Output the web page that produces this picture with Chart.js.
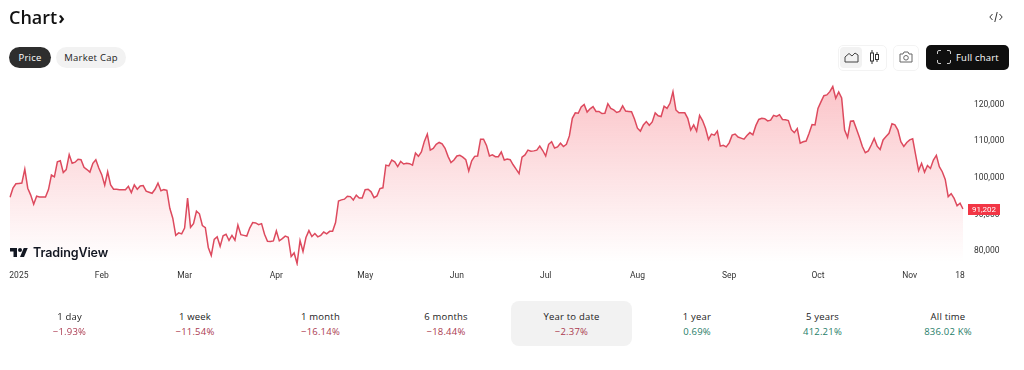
<!DOCTYPE html>
<html>
<head>
<meta charset="utf-8">
<title>Chart</title>
<script src="https://cdn.jsdelivr.net/npm/chart.js@4/dist/chart.umd.min.js"></script>
<style>
html, body { margin: 0; padding: 0; background: #fff; }
body { width: 1024px; height: 370px; overflow: hidden; position: relative; font-family: "Open Sans", sans-serif; color: #222; }
#wrap { position: absolute; left: 0; top: 0; width: 1024px; height: 290px; }
.abs { position: absolute; }
#title { left: 9px; top: 4px; font-size: 18px; font-weight: 600; color: #111; line-height: 26px; }
.pill { top: 47px; height: 21px; line-height: 21px; border-radius: 11px; font-size: 9.5px; text-align: center; letter-spacing: .25px; }
#price { left: 9px; width: 42px; background: #2e2e2e; color: #fff; }
#mcap { left: 56px; width: 70px; background: #f2f2f2; color: #222; }
#full { left: 926px; top: 45px; width: 83px; height: 25px; background: #0f0f0f; border-radius: 5px; color: #fff; font-size: 9.5px; font-weight: 500; letter-spacing: .2px; line-height: 25px; text-indent: 30px; }
.box { top: 45px; height: 24px; border: 1px solid #f3f3f3; border-radius: 5px; }
#active { left: 840px; top: 47px; width: 22px; height: 21px; background: #f2f2f2; border-radius: 4px; }
#logoText { left: 33px; top: 243px; font-family: Inter, sans-serif; font-size: 12.5px; font-weight: 600; color: #131722; line-height: 20px; letter-spacing: -.1px; }
#ytd { left: 511px; top: 301px; width: 121px; height: 45px; background: #f2f2f2; border-radius: 8px; }
.col { top: 309px; width: 125px; text-align: center; font-size: 9.5px; line-height: 15px; letter-spacing: .2px; }
.down { color: #ab3a50; }
.up { color: #1f7d68; }
</style>
</head>
<body>
<div id="wrap"><canvas id="priceChart" width="1024" height="290"></canvas></div>

<div class="abs" id="title">Chart<span style="font-size:18px;font-weight:700;margin-left:1px">›</span></div>
<div class="abs pill" id="price">Price</div>
<div class="abs pill" id="mcap">Market Cap</div>

<svg class="abs" style="left:989px;top:11px" width="14" height="12" viewBox="0 0 14 12" fill="none" stroke="#333" stroke-width="1">
  <path d="M3.5 3 L.8 6 L3.5 9 M10.5 3 L13.2 6 L10.5 9 M8.2 1 L5.8 11"/>
</svg>

<div class="abs box" style="left:838px;width:47px"></div>
<div class="abs" id="active"></div>
<svg class="abs" style="left:844px;top:51px" width="15" height="12" viewBox="0 0 15 12" fill="none" stroke="#444" stroke-width="1">
  <path d="M1 11 V6 L5 2.5 L8 5 L11 2 L14 4 V11 Z"/>
</svg>
<svg class="abs" style="left:869px;top:50px" width="11" height="14" viewBox="0 0 11 14" fill="none" stroke="#333" stroke-width="1">
  <path d="M3 0 V14 M8 2 V12"/>
  <rect x="1.5" y="3" width="3" height="8" fill="#fff"/>
  <rect x="6.5" y="4.5" width="3" height="5" fill="#fff"/>
</svg>
<div class="abs box" style="left:893px;width:24px"></div>
<svg class="abs" style="left:899px;top:51px" width="14" height="12" viewBox="0 0 14 12" fill="none" stroke="#666" stroke-width="1">
  <path d="M1 3 H4 L5 1 H9 L10 3 H13 V11 H1 Z"/>
  <circle cx="7" cy="6.8" r="2.3"/>
</svg>

<div class="abs" id="full">Full chart</div>
<svg class="abs" style="left:937px;top:50px" width="14" height="14" viewBox="0 0 14 14" fill="none" stroke="#ccc" stroke-width="1">
  <path d="M.5 4 V2 Q.5 .5 2 .5 H4 M10 .5 H12 Q13.5 .5 13.5 2 V4 M13.5 10 V12 Q13.5 13.5 12 13.5 H10 M4 13.5 H2 Q.5 13.5 .5 12 V10"/>
</svg>

<svg class="abs" style="left:10px;top:248px" width="18" height="9" viewBox="0 4 36 18" fill="#131722">
  <path d="M14 22H7V11H0V4h14v18zM28 22h-8l7.5-18h8L28 22z"/><circle cx="20" cy="8" r="4"/>
</svg>
<div class="abs" id="logoText">TradingView</div>

<div class="abs" id="ytd"></div>
<div id="periods"></div>

<script>
const jan = [94400,96900,98100,98200,98300,102100,96900,95000,92500,94700,94500,94500,94500,96500,100500,100000,104100,104400,101200,102000,106100,103700,104000,104800,104700,102600,102000,101300,103700,104700,102400];
const feb = [100600,97700,101400,97800,96600,96600,96500,96500,96500,97400,95700,97800,96600,97500,97600,96100,95800,95500,96600,98300,96200,96500,96300,91400,88700,84000,84700,84400];
const mar = [86000,94200,86200,87200,90600,89900,86700,86100,80700,78500,82900,83600,81000,83900,84300,82600,84000,82700,86800,84200,84000,83800,86000,87500,87400,86900,87200,84300,82400,82300,82500];
const apr = [85200,82500,83100,83800,83500,78200,79200,76300,82600,79600,83400,85300,83700,84500,83600,84000,84900,84400,85100,85100,87500,93400,93700,93900,94700,94600,93700,95000,94200,94200];
const may = [96500,96600,95900,94300,94800,96800,97000,103200,103000,104600,104100,102800,104200,103500,103700,103600,103200,106500,105600,106800,109700,111700,107300,107800,108900,109400,109000,107800,105600,103900,104600];
const jun = [105700,105900,105400,104700,101600,104400,105600,105700,110300,110300,108600,105700,106000,105500,105500,106800,104600,104900,104700,103300,102100,100900,105400,106000,107300,107000,107100,107300,108400,107200];
const jul = [105700,108900,109600,107900,108200,109200,108300,108900,111200,116000,117500,117400,119100,119800,117700,118600,119200,117900,117900,117300,117400,120000,118700,118300,117600,117900,119400,118000,117900,117800,115800];
const aug = [113300,112500,114200,115100,114100,115000,117500,116700,116500,119300,118700,120100,123300,118300,117500,117500,117500,116000,112800,114200,112500,116800,115400,113300,110200,111700,111400,112500,108400,108600,108200];
const sep = [109300,111400,111700,110900,110600,110300,111300,112100,111500,114000,115700,116000,115900,115300,115500,116800,116500,117000,115700,115600,115400,112900,112100,113200,109200,109600,109800,111900,114300,114200];
const oct = [118700,120500,122200,122400,123300,124700,121500,123200,121600,112800,110800,115200,115300,113100,110800,108300,106600,107100,108700,110500,108400,107500,110100,111000,111900,114500,114200,112800,109600,108300,109400];
const nov = [110100,110400,106000,101700,103700,101300,103100,102300,104600,105900,102800,101400,99300,94600,95400,94100,92100,92800,91202];

const prices = [].concat(jan, feb, mar, apr, may, jun, jul, aug, sep, oct, nov);

// day index -> text on the time axis ("2025" sits a bit inside the left edge)
const timeTicks = {3:'2025',31:'Feb',59:'Mar',90:'Apr',120:'May',151:'Jun',181:'Jul',212:'Aug',243:'Sep',273:'Oct',304:'Nov',321:'18'};
const priceTicks = [80000, 90000, 100000, 110000, 120000];

const periodNames = ['1 day','1 week','1 month','6 months','Year to date','1 year','5 years','All time'];
const periodChanges = ['−1.93%','−11.54%','−16.14%','−18.44%','−2.37%','0.69%','412.21%','836.02 K%'];
const periodUp = [false,false,false,false,false,true,true,true];

const labels = prices.map((p, i) => timeTicks[i] || '');

periodNames.forEach(function (name, i) {
    var d = document.createElement('div');
    d.className = 'abs col';
    d.style.left = (7 + i * 125.5) + 'px';
    d.innerHTML = '<div>' + name + '</div><div class="' + (periodUp[i] ? 'up' : 'down') + '">' + periodChanges[i] + '</div>';
    document.getElementById('periods').appendChild(d);
});

const lastPriceTag = {
    id: 'lastPriceTag',
    afterDraw(chart) {
        const c = chart.ctx;
        const last = prices[prices.length - 1];
        const y = chart.scales.y.getPixelForValue(last);
        c.save();
        c.fillStyle = '#f23645';
        c.fillRect(968, Math.round(y) - 5, 32, 11);
        c.fillStyle = '#fff';
        c.font = '8px Roboto, sans-serif';
        c.textAlign = 'center';
        c.textBaseline = 'middle';
        c.fillText(last.toLocaleString('en-US'), 984, Math.round(y) + 1);
        c.restore();
    }
};

var ctx = document.getElementById('priceChart').getContext('2d');
var priceChart = new Chart(ctx, {
    type: 'line',
    plugins: [lastPriceTag],
    data: {
        labels: labels,
        datasets: [{
            data: prices,
            borderColor: '#dd4a5e',
            borderWidth: 1.5,
            pointRadius: 0,
            tension: 0,
            fill: 'start',
            backgroundColor: function (context) {
                const area = context.chart.chartArea;
                if (!area) return 'rgba(242, 54, 69, 0.1)';
                const g = context.chart.ctx.createLinearGradient(0, area.top, 0, area.bottom - 4);
                g.addColorStop(0, 'rgba(242, 54, 69, 0.30)');
                g.addColorStop(1, 'rgba(242, 54, 69, 0)');
                return g;
            }
        }]
    },
    options: {
        responsive: false,
        animation: false,
        layout: { padding: { left: 10, top: 80 } },
        plugins: { legend: { display: false }, tooltip: { enabled: false } },
        scales: {
            x: {
                grid: { display: false, drawTicks: false },
                border: { display: false },
                afterBuildTicks: s => { s.ticks = s.ticks.filter(t => timeTicks[t.value]); },
                afterFit: s => { s.height = 24; },
                ticks: {
                    autoSkip: false,
                    maxRotation: 0,
                    padding: 5,
                    color: '#333',
                    font: { family: 'Roboto, sans-serif', size: 8.5 }
                }
            },
            y: {
                position: 'right',
                min: 75625,
                max: 126480,
                grid: { display: false, drawTicks: false },
                border: { display: false },
                afterBuildTicks: s => { s.ticks = priceTicks.map(v => ({ value: v })); },
                afterFit: s => { s.width = 61; },
                ticks: {
                    padding: 11,
                    labelOffset: 1,
                    color: '#333',
                    font: { family: 'Roboto, sans-serif', size: 8.5 },
                    callback: v => v.toLocaleString('en-US')
                }
            }
        }
    }
});
</script>
</body>
</html>
